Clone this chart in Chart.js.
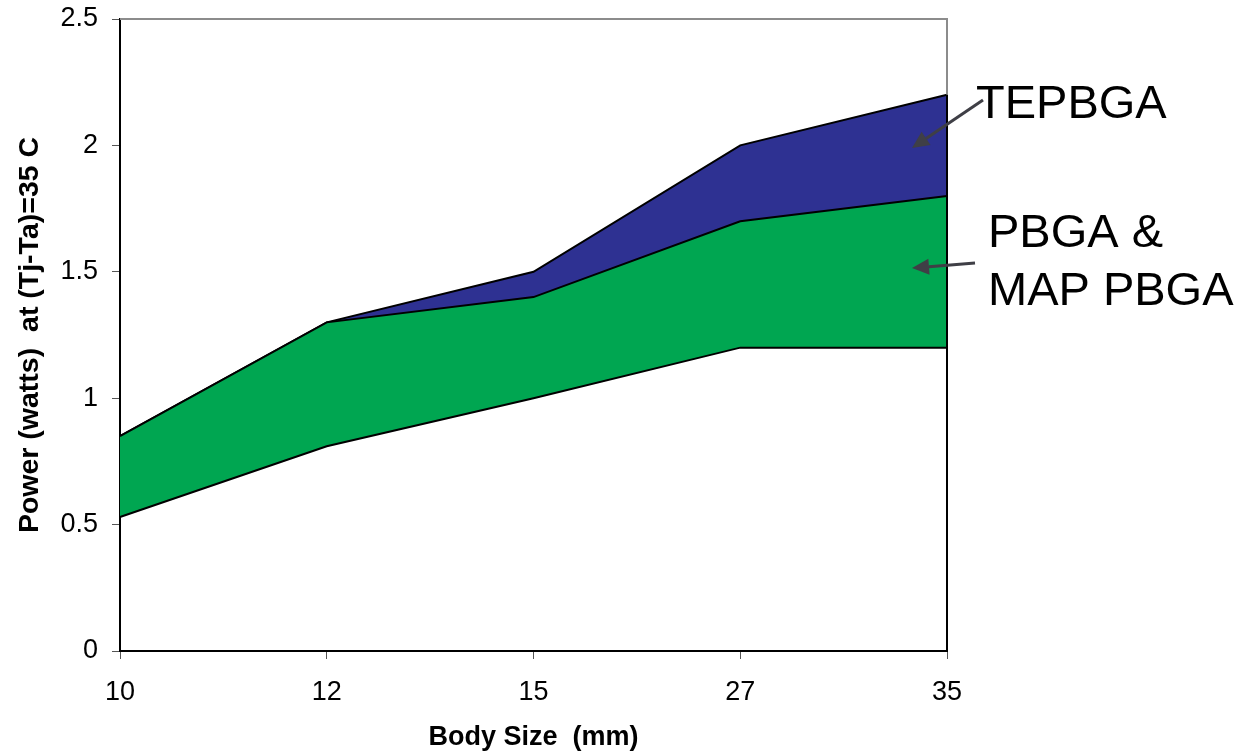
<!DOCTYPE html>
<html>
<head>
<meta charset="utf-8">
<script src="https://cdn.jsdelivr.net/npm/chart.js@4.4.1/dist/chart.umd.min.js"></script>
<style>
  html, body { margin: 0; padding: 0; background: #fff; }
  #wrap { width: 1243px; height: 754px; position: relative; }
</style>
</head>
<body>
<div id="wrap"><canvas id="powerChart" width="1243" height="754"></canvas></div>
<script>
const ctx = document.getElementById('powerChart').getContext('2d');

// body sizes on the x axis
const bodySizes = ['10', '12', '15', '27', '35'];

// boundary lines of the stacked bands (watts)
const lowerLine = [0.53, 0.81, 1.0, 1.2, 1.2];
const pbgaTop = [0.85, 1.3, 1.4, 1.7, 1.8];
const tepbgaTop = [0.85, 1.3, 1.5, 2.0, 2.2];

const yTicks = [0, 0.5, 1, 1.5, 2, 2.5];

const FONT = 'Liberation Sans, Arial, Helvetica, sans-serif';

// gray top/right frame, black right edge under the bands, and the callout labels
const extras = {
    id: 'extras',
    afterDatasetsDraw(chart) {
        const c = chart.ctx;
        const a = chart.chartArea;
        const xs = chart.scales.x, ys = chart.scales.y;
        const xr = xs.getPixelForValue(bodySizes.length - 1);
        const yTop = ys.getPixelForValue(tepbgaTop[tepbgaTop.length - 1]);
        const yZero = ys.getPixelForValue(0);
        c.save();
        c.lineWidth = 2;
        c.strokeStyle = '#8c8c8c';
        c.beginPath();
        c.moveTo(a.left, a.top);
        c.lineTo(a.right, a.top);
        c.lineTo(a.right, yTop);
        c.stroke();
        c.strokeStyle = '#000';
        c.beginPath();
        c.moveTo(xr, yTop);
        c.lineTo(xr, yZero);
        c.stroke();

        // callouts
        c.fillStyle = '#000';
        c.font = '47px ' + FONT;
        c.textBaseline = 'alphabetic';
        c.textAlign = 'left';
        c.fillText('TEPBGA', a.right + 29, 118);
        c.fillText('PBGA &', a.right + 41, 247);
        c.fillText('MAP PBGA', a.right + 41, 305);

        arrow(c, a.right + 36, 100, a.right - 35, 148);
        arrow(c, a.right + 28, 263, a.right - 35, 268);
        c.restore();
    }
};

function arrow(c, x1, y1, x2, y2) {
    const ang = Math.atan2(y2 - y1, x2 - x1);
    const len = 17, half = 8;
    const bx = x2 - len * Math.cos(ang), by = y2 - len * Math.sin(ang);
    c.strokeStyle = '#3f3f46';
    c.fillStyle = '#3f3f46';
    c.lineWidth = 3;
    c.beginPath();
    c.moveTo(x1, y1);
    c.lineTo(bx, by);
    c.stroke();
    c.beginPath();
    c.moveTo(x2, y2);
    c.lineTo(bx + half * Math.sin(ang), by - half * Math.cos(ang));
    c.lineTo(bx - half * Math.sin(ang), by + half * Math.cos(ang));
    c.closePath();
    c.fill();
}

const chart = new Chart(ctx, {
    type: 'line',
    data: {
        labels: bodySizes,
        datasets: [
            {
                label: 'lower',
                data: lowerLine,
                borderColor: '#000',
                borderWidth: 2,
                pointRadius: 0,
                fill: false,
                tension: 0
            },
            {
                label: 'PBGA & MAP PBGA',
                data: pbgaTop,
                borderColor: '#000',
                borderWidth: 2,
                backgroundColor: '#00a651',
                pointRadius: 0,
                fill: '-1',
                tension: 0
            },
            {
                label: 'TEPBGA',
                data: tepbgaTop,
                borderColor: '#000',
                borderWidth: 2,
                backgroundColor: '#2e3192',
                pointRadius: 0,
                fill: '-1',
                tension: 0
            }
        ]
    },
    options: {
        responsive: false,
        animation: false,
        layout: { padding: { left: 0, top: 19, right: 296, bottom: 0 } },
        plugins: {
            legend: { display: false },
            tooltip: { enabled: false }
        },
        scales: {
            x: {
                offset: false,
                grid: { drawOnChartArea: false, drawTicks: true, tickLength: 8, color: '#555' },
                border: { color: '#000', width: 2 },
                ticks: { color: '#000', padding: 17, font: { family: FONT, size: 27 } },
                title: {
                    display: true,
                    text: 'Body Size  (mm)',
                    color: '#000',
                    padding: 0,
                    font: { family: FONT, size: 27, weight: 'bold' }
                },
                afterFit(scale) {
                    scale.height = 103;
                    scale.paddingLeft = 0;
                    scale.paddingRight = 0;
                }
            },
            y: {
                min: 0,
                max: 2.5,
                afterBuildTicks(scale) { scale.ticks = yTicks.map(v => ({ value: v })); },
                grid: { drawOnChartArea: false, drawTicks: true, tickLength: 8, color: '#555' },
                border: { color: '#000', width: 2 },
                ticks: {
                    color: '#000',
                    padding: 14,
                    font: { family: FONT, size: 27 },
                    callback: v => String(v)
                },
                title: {
                    display: true,
                    text: 'Power (watts)  at (Tj-Ta)=35 C',
                    color: '#000',
                    padding: { top: 13, bottom: 0 },
                    font: { family: FONT, size: 28.5, weight: 'bold' }
                },
                afterFit(scale) {
                    scale.width = 120;
                    scale.paddingTop = 0;
                    scale.paddingBottom = 0;
                }
            }
        }
    },
    plugins: [extras]
});
</script>
</body>
</html>
